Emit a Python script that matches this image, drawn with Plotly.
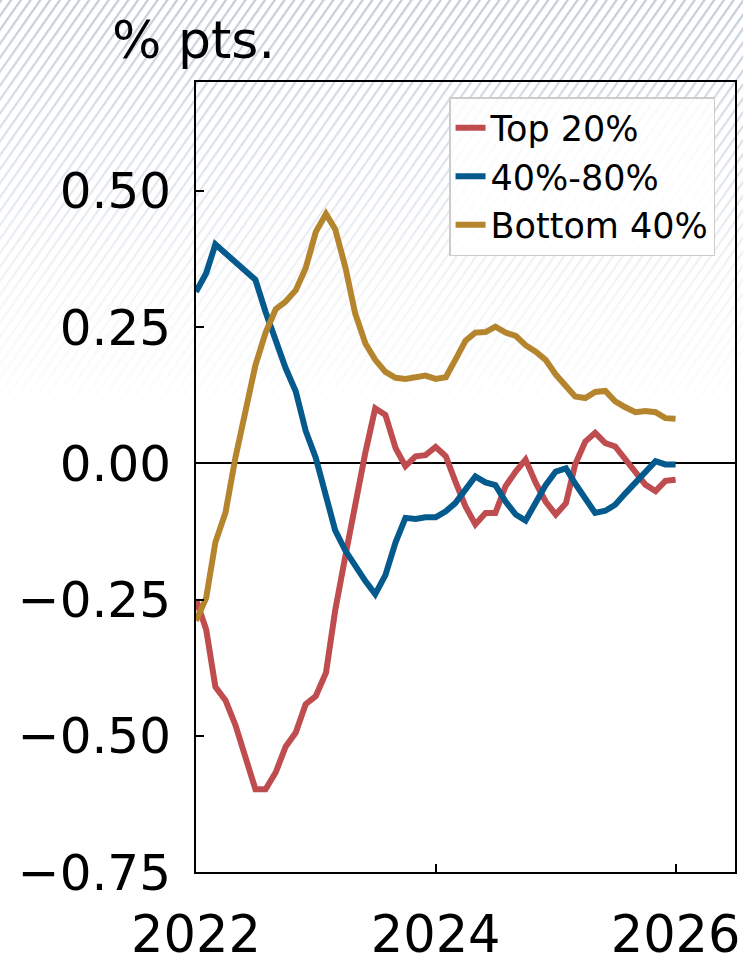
import base64
import pandas as pd
import plotly.graph_objects as go

# monthly observations, Jan 2022 - Jan 2026
months = pd.date_range("2022-01-01", "2026-01-01", freq="MS")

top_20 = [-0.25, -0.305, -0.41, -0.435, -0.48, -0.54, -0.598, -0.598, -0.567, -0.52,
          -0.494, -0.442, -0.427, -0.384, -0.27, -0.17, -0.07, 0.02, 0.101, 0.089,
          0.028, -0.005, 0.013, 0.015, 0.03, 0.013, -0.033, -0.079, -0.112, -0.091,
          -0.091, -0.042, -0.015, 0.007, -0.036, -0.07, -0.094, -0.073, -0.002, 0.04,
          0.056, 0.037, 0.031, 0.007, -0.015, -0.039, -0.051, -0.032, -0.03]

mid_40_80 = [0.315, 0.349, 0.402, 0.385, 0.37, 0.355, 0.337, 0.278, 0.222, 0.175,
             0.132, 0.06, 0.01, -0.057, -0.123, -0.16, -0.19, -0.216, -0.24, -0.205,
             -0.145, -0.10, -0.102, -0.099, -0.099, -0.088, -0.073, -0.05, -0.024, -0.035,
             -0.04, -0.07, -0.094, -0.105, -0.073, -0.04, -0.015, -0.009, -0.037, -0.065,
             -0.091, -0.087, -0.076, -0.055, -0.035, -0.015, 0.004, -0.002, -0.002]

bottom_40 = [-0.289, -0.247, -0.145, -0.09, 0.01, 0.10, 0.18, 0.24, 0.283, 0.297,
             0.318, 0.358, 0.425, 0.458, 0.43, 0.36, 0.275, 0.22, 0.19, 0.168,
             0.157, 0.155, 0.157, 0.161, 0.155, 0.158, 0.19, 0.225, 0.24, 0.241,
             0.251, 0.24, 0.234, 0.217, 0.205, 0.19, 0.163, 0.143, 0.123, 0.12,
             0.131, 0.133, 0.114, 0.103, 0.094, 0.096, 0.094, 0.083, 0.082]

series = [("Top 20%", top_20, "#bf4c4f"),
          ("40%-80%", mid_40_80, "#045a8d"),
          ("Bottom 40%", bottom_40, "#b5852e")]

W, H = 743, 963
L, R, T, B = 196, 8, 82, 91
pw, ph = W - L - R, H - T - B

# hatched background that fades out towards the bottom
svg = f'''<svg xmlns="http://www.w3.org/2000/svg" width="{W}" height="{H}">
<defs>
<pattern id="h" width="8" height="8" patternUnits="userSpaceOnUse" patternTransform="rotate(35)">
<rect x="0" y="0" width="2.2" height="8" fill="#c2cdd8"/></pattern>
<linearGradient id="g" x1="0" y1="0" x2="0" y2="{H}" gradientUnits="userSpaceOnUse">
<stop offset="0" stop-color="#ffffff" stop-opacity="0.0"/>
<stop offset="0.12" stop-color="#ffffff" stop-opacity="0.35"/>
<stop offset="0.30" stop-color="#ffffff" stop-opacity="0.8"/>
<stop offset="0.44" stop-color="#ffffff" stop-opacity="1"/></linearGradient>
</defs>
<rect width="{W}" height="{H}" fill="#ffffff"/>
<rect width="{W}" height="{H}" fill="url(#h)"/>
<rect width="{W}" height="{H}" fill="url(#g)"/>
</svg>'''
bg = "data:image/svg+xml;base64," + base64.b64encode(svg.encode()).decode()

fig = go.Figure()
for name, vals, col in series:
    fig.add_trace(go.Scatter(x=months, y=vals, name=name, mode="lines",
                             line=dict(color=col, width=6)))

fig.add_layout_image(dict(source=bg, xref="paper", yref="paper",
                          x=-L / pw, y=1 + T / ph, sizex=W / pw, sizey=H / ph,
                          xanchor="left", yanchor="top", sizing="stretch",
                          layer="below"))

fig.add_annotation(text="% pts.", xref="paper", yref="paper",
                   x=(110 - L) / pw, y=1 + (T - 40) / ph, xanchor="left",
                   yanchor="middle", showarrow=False,
                   font=dict(size=52, color="black"))

fig.update_layout(
    width=W, height=H,
    margin=dict(l=L, r=R, t=T, b=B),
    paper_bgcolor="white",
    plot_bgcolor="rgba(0,0,0,0)",
    font=dict(family="DejaVu Sans", color="black"),
    showlegend=True,
    legend=dict(x=0.963, y=0.981, xanchor="right", yanchor="top",
                bgcolor="rgba(255,255,255,0.85)", bordercolor="#cccccc",
                borderwidth=1.5, font=dict(size=35)),
)
fig.update_xaxes(range=["2022-01-01", "2026-07-01"], tickvals=["2022-01-01", "2024-01-01", "2026-01-01"],
                 tickformat="%Y", ticks="inside", ticklen=8, tickwidth=2,
                 tickcolor="black", showline=True, linecolor="black",
                 linewidth=2, mirror=True, showgrid=False, zeroline=False,
                 automargin=False, tickfont=dict(size=51), ticklabelstandoff=17)
fig.update_yaxes(range=[-0.75, 0.70], tickvals=[-0.75, -0.5, -0.25, 0, 0.25, 0.5],
                 tickformat=".2f", ticks="inside", ticklen=8, tickwidth=2,
                 tickcolor="black", showline=True, linecolor="black",
                 linewidth=2, mirror=True, showgrid=False, zeroline=True,
                 zerolinecolor="black", zerolinewidth=2, automargin=False,
                 tickfont=dict(size=50), ticklabelstandoff=13)

# drop the default page margin so the figure fills the window
fig.write_html("out.html", config={"displayModeBar": False},
               post_script="document.body.style.margin='0';")
